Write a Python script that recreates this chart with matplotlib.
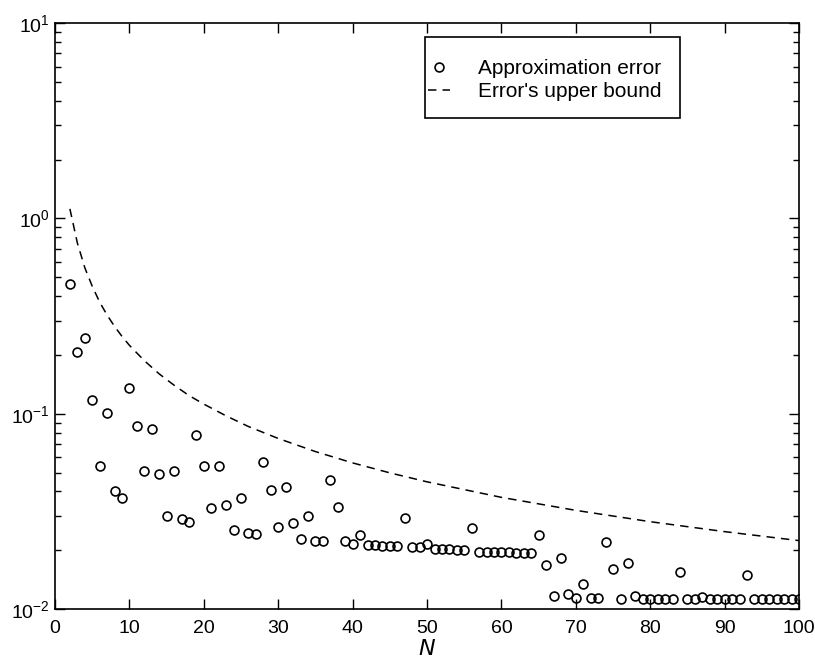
import numpy as np
import matplotlib.pyplot as plt
from matplotlib.patches import Rectangle

plt.rcParams["font.family"] = ["Liberation Sans", "DejaVu Sans"]
plt.rcParams["mathtext.default"] = "regular"

# approximation error, one value per N = 2..100
n_vals = list(range(2, 101))
err_vals = [
    0.461, 0.207, 0.243, 0.118, 0.054, 0.101, 0.040, 0.037, 0.136,   # 2-10
    0.087, 0.051, 0.084, 0.049, 0.030, 0.051, 0.0289, 0.028, 0.078, 0.054,  # 11-20
    0.033, 0.054, 0.034, 0.0253, 0.037, 0.0246, 0.0243, 0.0568, 0.0406, 0.0262,  # 21-30
    0.042, 0.0277, 0.0229, 0.030, 0.0223, 0.0222, 0.0456, 0.0333, 0.0222, 0.0215,  # 31-40
    0.0239, 0.0213, 0.0212, 0.0211, 0.0210, 0.0209, 0.0291, 0.0207, 0.0207, 0.0216,  # 41-50
    0.0203, 0.0202, 0.0202, 0.0201, 0.0200, 0.0261, 0.0197, 0.0197, 0.0196, 0.0196,  # 51-60
    0.0195, 0.0194, 0.0194, 0.0194, 0.0239, 0.0169, 0.0117, 0.0182, 0.0119, 0.0114,  # 61-70
    0.0134, 0.0114, 0.0114, 0.0220, 0.0161, 0.0113, 0.0173, 0.0116, 0.0113, 0.0113,  # 71-80
    0.0113, 0.0113, 0.0113, 0.0154, 0.0113, 0.0113, 0.0115, 0.0113, 0.0113, 0.0113,  # 81-90
    0.0113, 0.0113, 0.0150, 0.0113, 0.0113, 0.0113, 0.0113, 0.0113, 0.0113, 0.0113,  # 91-100
]

# upper bound, read at a few N
bound_n = [2, 3, 4, 5, 6, 7, 8, 9, 10, 12, 14, 16, 18, 20, 23, 26, 30, 35, 40,
           45, 50, 60, 70, 80, 90, 100]
bound_vals = [1.12, 0.75, 0.56, 0.45, 0.373, 0.32, 0.28, 0.249, 0.224, 0.187,
              0.16, 0.14, 0.124, 0.112, 0.0975, 0.086, 0.0747, 0.064, 0.056,
              0.0498, 0.0448, 0.0373, 0.032, 0.028, 0.0249, 0.0224]

fig = plt.figure(figsize=(8.15, 6.68), dpi=100)
ax = fig.add_axes([0.0675, 0.0883, 0.913, 0.877])

ax.semilogy(n_vals, err_vals, "o", mfc="none", mec="black", ms=6.4, mew=1.2,
            label="Approximation error")
ax.semilogy(bound_n, bound_vals, "--", color="black", lw=1.1, dashes=(5.5, 4),
            label="Error's upper bound")

ax.set_xlim(0, 100)
ax.set_ylim(1e-2, 1e1)
ax.set_xticks(np.arange(0, 101, 10))
ax.set_xlabel("$\\it{N}$", fontsize=16, labelpad=1)

ax.tick_params(which="both", direction="in", top=True, right=True,
               labelsize=14, width=1)
ax.tick_params(which="major", length=7)
ax.tick_params(which="minor", length=4)
ax.tick_params(axis="x", which="major", pad=8)
for s in ax.spines.values():
    s.set_linewidth(1.2)

# legend frame drawn separately so the padding matches
ax.add_patch(Rectangle((0.497, 0.838), 0.343, 0.138, transform=ax.transAxes,
                       fill=False, edgecolor="black", lw=1.2, zorder=5))
leg = ax.legend(loc="upper left", bbox_to_anchor=(0.501, 0.939), fontsize=15,
                frameon=False, borderpad=0, borderaxespad=0,
                handlelength=1.05, handletextpad=1.35, labelspacing=0.2)

plt.savefig("out.png")
